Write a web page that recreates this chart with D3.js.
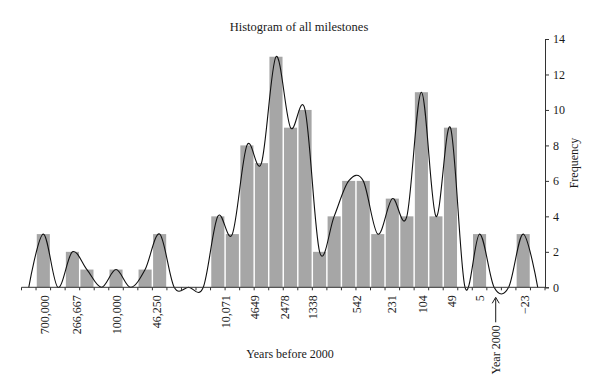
<!DOCTYPE html>
<html>
<head>
<meta charset="utf-8">
<script src="https://cdn.jsdelivr.net/npm/d3@7"></script>
<style>
  html, body { margin: 0; padding: 0; background: #fff; }
  svg { display: block; }
  text { font-family: "Liberation Serif", "DejaVu Serif", serif; fill: #1a1a1a; }
</style>
</head>
<body>
<svg id="chart" width="600" height="379"></svg>
<script>
// Frequency per bin (36 bins, oldest to most recent)
const frequencies = [0, 3, 0, 2, 1, 0, 1, 0, 1, 3, 0, 0, 0, 4, 3, 8, 7, 13, 9, 10, 2, 4, 6, 6, 3, 5, 4, 11, 4, 9, 0, 3, 0, 0, 3, 0];
// Tick labels (years before 2000) and the bin position they sit at
const tickLabels = ["700,000", "266,667", "100,000", "46,250", "10,071", "4649", "2478", "1338", "542", "231", "104", "49", "5", "\u221223"];
const tickSlots = [1.58, 3.81, 6.53, 9.31, 14.02, 16.05, 18.11, 20.0, 23.06, 25.46, 27.6, 29.6, 31.51, 34.6];
// "Year 2000" marker label and its bin position
const markerLabel = "Year 2000";
const markerSlot = 32.61;
const yTicks = [0, 2, 4, 6, 8, 10, 12, 14];
const chartTitle = "Histogram of all milestones";
const xTitle = "Years before 2000";
const yTitle = "Frequency";

const FS = 12;
const svg = d3.select("#chart");
const mLeft = 21.5, mRight = 545, mTop = 39, mBottom = 287.3;

const x = d3.scaleBand().domain(d3.range(frequencies.length)).range([mLeft, mRight]).paddingInner(0.1).paddingOuter(0.05);
const xPos = d3.scaleLinear().domain([0, frequencies.length]).range([mLeft, mRight]);
const y = d3.scaleLinear().domain([0, 14]).range([mBottom, mTop]);

// bars
svg.append("g").selectAll("rect").data(frequencies).join("rect")
  .attr("x", (d, i) => x(i))
  .attr("width", x.bandwidth())
  .attr("y", d => y(d))
  .attr("height", d => y(0) - y(d))
  .attr("fill", "#a6a6a6");

// smooth line
const line = d3.line()
  .x((d, i) => x(i) + x.bandwidth() / 2)
  .y(d => y(d))
  .curve(d3.curveCardinal.tension(0));
svg.append("path").datum(frequencies)
  .attr("d", line)
  .attr("fill", "none")
  .attr("stroke", "#111")
  .attr("stroke-width", 1.1);

// x axis line + ticks at bin boundaries
const xAxisG = svg.append("g");
xAxisG.append("line")
  .attr("x1", mLeft).attr("x2", mRight)
  .attr("y1", mBottom).attr("y2", mBottom)
  .attr("stroke", "#333").attr("stroke-width", 1);
xAxisG.selectAll("line.tk").data(d3.range(frequencies.length + 1)).join("line")
  .attr("class", "tk")
  .attr("x1", d => xPos(d)).attr("x2", d => xPos(d))
  .attr("y1", mBottom).attr("y2", mBottom + 3)
  .attr("stroke", "#333").attr("stroke-width", 1);

// x tick labels (rotated)
xAxisG.selectAll("text.lbl").data(tickLabels).join("text")
  .attr("class", "lbl")
  .attr("transform", (d, i) => `translate(${xPos(tickSlots[i])},${mBottom + 8}) rotate(-90)`)
  .attr("text-anchor", "end")
  .attr("dy", "0.35em")
  .attr("font-size", FS)
  .text(d => d);

// Year 2000 marker: arrow + label
const mx = xPos(markerSlot);
xAxisG.append("line")
  .attr("x1", mx).attr("x2", mx)
  .attr("y1", mBottom + 11).attr("y2", mBottom + 35)
  .attr("stroke", "#1a1a1a").attr("stroke-width", 1);
xAxisG.append("path")
  .attr("d", `M${mx - 3.5},${mBottom + 16} L${mx},${mBottom + 10} L${mx + 3.5},${mBottom + 16}`)
  .attr("fill", "none").attr("stroke", "#1a1a1a").attr("stroke-width", 1);
xAxisG.append("text")
  .attr("transform", `translate(${mx},${mBottom + 38}) rotate(-90)`)
  .attr("text-anchor", "end")
  .attr("dy", "0.35em")
  .attr("font-size", FS)
  .text(markerLabel);

// right y axis
const yAxis = d3.axisRight(y).tickValues(yTicks).tickSize(4).tickPadding(4);
const yg = svg.append("g").attr("transform", `translate(${mRight},0)`).call(yAxis);
yg.select(".domain").attr("stroke", "#333");
yg.selectAll(".tick line").attr("stroke", "#333");
yg.selectAll(".tick text").attr("font-size", FS).attr("font-family", "Liberation Serif, serif").attr("fill", "#1a1a1a");

// titles
svg.append("text").attr("x", 299).attr("y", 31).attr("text-anchor", "middle").attr("font-size", 12.5).text(chartTitle);
svg.append("text").attr("x", 290).attr("y", 358).attr("text-anchor", "middle").attr("font-size", FS).text(xTitle);
svg.append("text").attr("transform", `translate(574,163) rotate(-90)`).attr("text-anchor", "middle").attr("dy", "0.35em").attr("font-size", FS).text(yTitle);
</script>
</body>
</html>
